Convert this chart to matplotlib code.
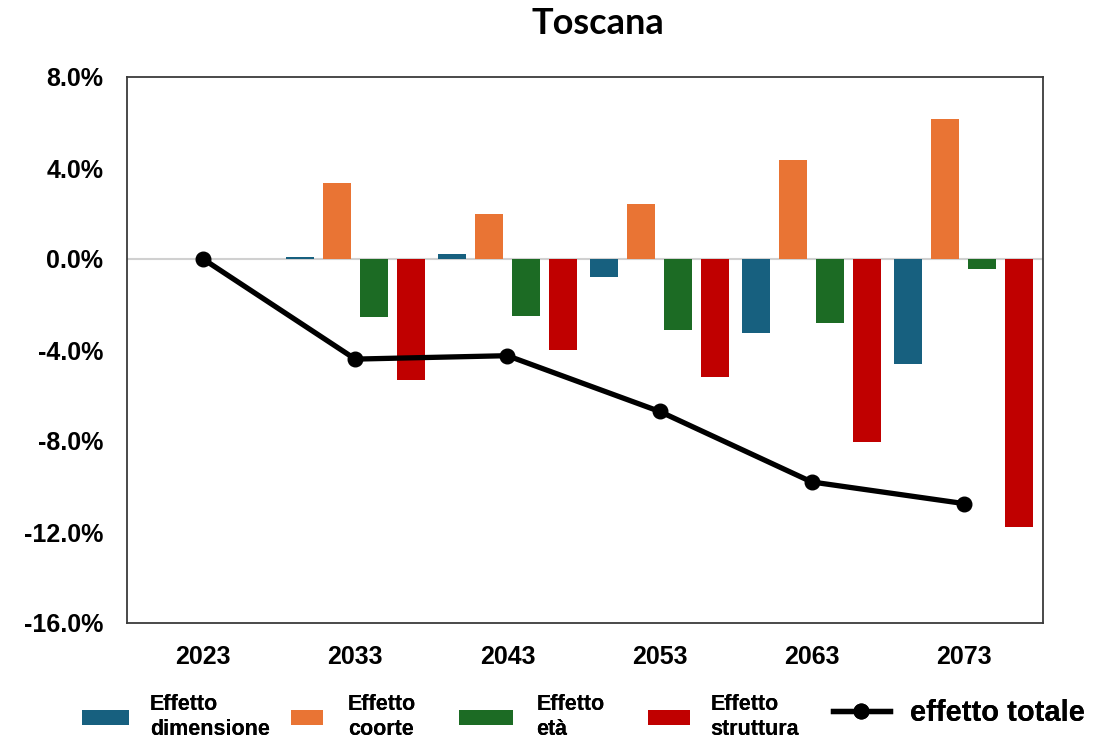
import matplotlib
matplotlib.use("Agg")
import matplotlib.pyplot as plt
import numpy as np
from matplotlib.ticker import FuncFormatter

plt.rcParams['font.family'] = ['Liberation Sans', 'DejaVu Sans']

years = ["2023", "2033", "2043", "2053", "2063", "2073"]
dimensione = [0.0, 0.1, 0.2, -0.8, -3.25, -4.6]
coorte = [0.0, 3.35, 2.0, 2.4, 4.35, 6.15]
eta = [0.0, -2.55, -2.5, -3.1, -2.8, -0.45]
struttura = [0.0, -5.3, -4.0, -5.2, -8.05, -11.8]
totale = [0.0, -4.4, -4.25, -6.7, -9.8, -10.75]

series = [
    ("Effetto\ndimensione", dimensione, "#17607f"),
    ("Effetto\ncoorte", coorte, "#e97434"),
    ("Effetto\netà", eta, "#1c6b24"),
    ("Effetto\nstruttura", struttura, "#c00000"),
]

W, H = 1117, 744
fig = plt.figure(figsize=(W / 100, H / 100), dpi=100)
ax = fig.add_axes([127 / W, 1 - 623 / H, (1043 - 127) / W, (623 - 77) / H])

x = np.arange(len(years))
step = 0.243
width = 0.185
handles = []
for i, (lab, vals, col) in enumerate(series):
    b = ax.bar(x + (i - 1.5) * step, vals, width=width, color=col,
               linewidth=0, label=lab, zorder=2)
    handles.append(b)

ax.axhline(0, color="#d0d0d0", linewidth=1.5, zorder=1)
ln, = ax.plot(x, totale, color="black", linewidth=3.8, marker="o",
              markersize=10.5, label="effetto totale", zorder=3)

ax.set_xlim(-0.5, 5.52)
ax.set_ylim(-16, 8)
ax.set_yticks(np.arange(-16, 8.1, 4))
ax.yaxis.set_major_formatter(FuncFormatter(lambda v, p: f"{v:.1f}%"))
ax.set_xticks(x)
ax.set_xticklabels(years)
ax.tick_params(axis="both", length=0, labelsize=18)
ax.tick_params(axis="x", pad=16)
ax.tick_params(axis="y", pad=17)
for t in ax.get_xticklabels() + ax.get_yticklabels():
    t.set_fontweight("bold")
for s in ax.spines.values():
    s.set_color("#3a3a3a")
    s.set_linewidth(1.3)

fig.text(598 / W, 1 - 23 / H, "Toscana", ha="center", va="center",
         fontsize=26, fontweight="bold", family=["Lato", "DejaVu Sans"])

# legend: one entry per group, placed along the bottom
leg_x = [82, 291, 459, 648, 833]
hlen = [2.2, 1.5, 2.5, 1.95, 1.95]
hpad = [0.95, 1.15, 1.1, 0.95, 0.7]
all_h = handles + [ln]
for k, h in enumerate(all_h):
    fs = 21 if k == 4 else 15.5
    lg = fig.legend(handles=[h], loc="center left",
                    bbox_to_anchor=(leg_x[k] / W, 1 - (713 if k == 4 else 717) / H),
                    frameon=False, borderpad=0, borderaxespad=0,
                    prop={"size": fs, "weight": "bold"},
                    handlelength=hlen[k], handleheight=0.64,
                    handletextpad=hpad[k])
    for t in lg.get_texts():
        t.set_linespacing(1.3)
    fig.add_artist(lg)

fig.savefig("out.png", dpi=100)
